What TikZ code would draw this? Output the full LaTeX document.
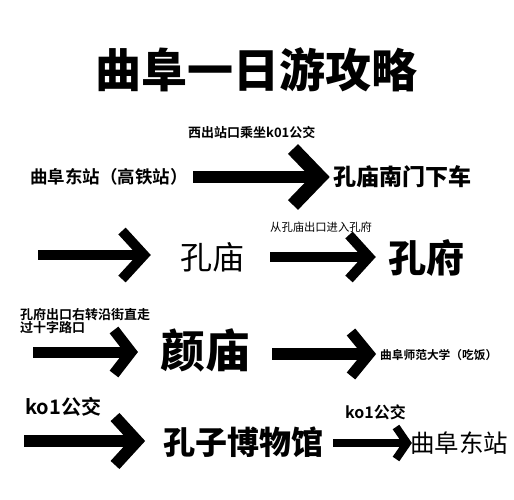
\documentclass[tikz,border=0pt]{standalone}
\usepackage{fontspec}
\setmainfont{Noto Sans CJK SC}
\newfontfamily\cjkheavy{Noto Sans CJK SC Black}
\newfontfamily\cjkbold{Noto Sans CJK SC Bold}
\usetikzlibrary{calc}
\tikzset{
  txt/.style={inner sep=0pt, anchor=west},
  shaft/.style={line width=#1, line cap=butt},
  chev/.style={line width=#1, line join=miter, line cap=butt, miter limit=10}
}
% \fatarrow{name}{start}{tip}{arm dx}{arm dy}{shaft width}{head width}
\newcommand\fatarrow[7]{%
  \coordinate (#1s) at (#2);
  \coordinate (#1t) at (#3);
  \draw[shaft=#6] (#1s) -- ($(#1t)+(-4,0)$);
  \draw[chev=#7] ($(#1t)+(-#4,-#5)$) -- (#1t) -- ($(#1t)+(-#4,#5)$);
}
\begin{document}
\begin{tikzpicture}[x=1pt,y=-1pt]
\useasboundingbox[fill=white] (0,0) rectangle (514,500);

\node[inner sep=0pt, font=\cjkheavy\fontsize{46}{50}\selectfont] (title) at (256,70) {曲阜一日游攻略};

% row 1
\node[txt, font=\cjkbold\fontsize{13}{15}\selectfont] (l1) at (188,132) {西出站口乘坐k01公交};
\node[txt, font=\cjkbold\fontsize{17.5}{20}\selectfont] (n1) at (30,177) {曲阜东站（高铁站）};
\node[txt, font=\cjkheavy\fontsize{23}{26}\selectfont] (n2) at (333,177) {孔庙南门下车};
\fatarrow{a1}{193,177}{320,177}{27}{28}{12pt}{14pt}

% row 2
\fatarrow{a2}{38,255}{144,255}{22}{24}{10pt}{10pt}
\node[txt, font=\fontsize{32}{36}\selectfont] (n3) at (180,257) {孔庙};
\fatarrow{a3}{270,257}{369,257}{20}{22}{10pt}{10pt}
\node[txt, font=\fontsize{11.3}{13}\selectfont] (l2) at (270,227) {从孔庙出口进入孔府};
\node[txt, font=\cjkheavy\fontsize{38}{42}\selectfont] (n4) at (388,258) {孔府};

% row 3
\node[txt, align=left, font=\cjkbold\fontsize{13}{13}\selectfont] (l3) at (20,321) {孔府出口右转沿街直走\\过十字路口};
\fatarrow{a4}{33,352}{131,352}{17}{22}{11pt}{11pt}
\node[txt, font=\cjkheavy\fontsize{45}{50}\selectfont] (n5) at (160,350) {颜庙};
\fatarrow{a5}{272,354}{369,354}{18}{22}{12pt}{11pt}
\node[txt, font=\cjkbold\fontsize{11.7}{14}\selectfont] (n6) at (380,355) {曲阜师范大学（吃饭）};

% row 4
\node[txt, font=\cjkbold\fontsize{20}{24}\selectfont] (l4) at (25,407) {ko1公交};
\fatarrow{a6}{24,441}{137,441}{22}{24}{12pt}{12pt}
\node[txt, font=\cjkheavy\fontsize{32}{36}\selectfont] (n7) at (163,442) {孔子博物馆};
\fatarrow{a7}{333,443}{407,443}{11}{16}{8pt}{8pt}
\node[txt, font=\cjkbold\fontsize{16}{19}\selectfont] (l5) at (345,412) {ko1公交};
\node[txt, font=\fontsize{24.5}{28}\selectfont] (n8) at (410,443) {曲阜东站};
\end{tikzpicture}
\end{document}
